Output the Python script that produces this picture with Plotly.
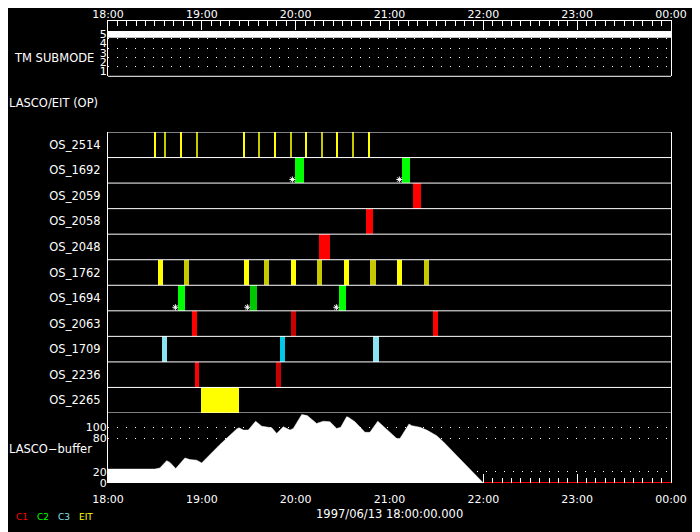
import plotly.graph_objects as go

# ---------------- data ----------------
hour_ticks = [0, 60, 120, 180, 240, 300, 360]          # minutes after 18:00
hour_labels = ["18:00", "19:00", "20:00", "21:00", "22:00", "23:00", "00:00"]

os_names = ["OS_2514", "OS_1692", "OS_2059", "OS_2058", "OS_2048", "OS_1762",
            "OS_1694", "OS_2063", "OS_1709", "OS_2236", "OS_2265"]

YEL, OLV = "#ffff00", "#c8c800"
GRN, DGRN = "#00ff00", "#00c800"
RED, DRED = "#ff0000", "#c80000"
LCY, DCY = "#8ae2f0", "#00c8e6"

os_2514_start = [29.6, 36.0, 46.0, 56.0, 86.1, 96.1, 106.1, 116.1, 126.2, 136.2, 146.0, 156.2, 166.3]
os_2514_dur = [1.3, 0.7, 1.3, 1.3, 1.3, 0.7, 1.3, 1.3, 0.7, 1.3, 0.7, 0.7, 1.3]
os_2514_col = [YEL, OLV, YEL, OLV, YEL, OLV, YEL, OLV, YEL, OLV, YEL, OLV, YEL]

os_1692_start = [119.6, 188.0]
os_1692_dur = [5.8, 5.1]
os_1692_col = [GRN, GRN]

os_2059_start = [195.0]
os_2059_dur = [5.1]
os_2059_col = [RED]

os_2058_start = [165.0]
os_2058_dur = [4.5]
os_2058_col = [RED]

os_2048_start = [134.9]
os_2048_dur = [7.0]
os_2048_col = [RED]

os_1762_start = [32.0, 48.6, 87.0, 99.7, 117.0, 133.6, 150.9, 167.5, 184.8, 202.0]
os_1762_dur = [3.2, 3.2, 3.2, 3.2, 3.2, 3.2, 3.2, 3.9, 3.2, 3.2]
os_1762_col = [YEL, OLV, YEL, OLV, YEL, OLV, YEL, OLV, YEL, OLV]

os_1694_start = [44.8, 90.8, 147.7]
os_1694_dur = [4.5, 4.5, 4.5]
os_1694_col = [GRN, DGRN, GRN]

os_2063_start = [53.7, 117.0, 207.8]
os_2063_dur = [3.2, 3.2, 3.2]
os_2063_col = [RED, DRED, RED]

os_1709_start = [34.5, 110.0, 169.5]
os_1709_dur = [3.2, 3.2, 3.8]
os_1709_col = [LCY, DCY, LCY]

os_2236_start = [55.6, 107.4]
os_2236_dur = [2.6, 3.2]
os_2236_col = [RED, DRED]

os_2265_start = [59.5]
os_2265_dur = [24.3]
os_2265_col = [YEL]

rows = {
    "OS_2514": (os_2514_start, os_2514_dur, os_2514_col),
    "OS_1692": (os_1692_start, os_1692_dur, os_1692_col),
    "OS_2059": (os_2059_start, os_2059_dur, os_2059_col),
    "OS_2058": (os_2058_start, os_2058_dur, os_2058_col),
    "OS_2048": (os_2048_start, os_2048_dur, os_2048_col),
    "OS_1762": (os_1762_start, os_1762_dur, os_1762_col),
    "OS_1694": (os_1694_start, os_1694_dur, os_1694_col),
    "OS_2063": (os_2063_start, os_2063_dur, os_2063_col),
    "OS_1709": (os_1709_start, os_1709_dur, os_1709_col),
    "OS_2236": (os_2236_start, os_2236_dur, os_2236_col),
    "OS_2265": (os_2265_start, os_2265_dur, os_2265_col),
}
asterisk_rows = ["OS_1692", "OS_1694"]

tm_time = [0, 360]
tm_submode = [5, 5]

buffer_time = [0, 30, 33.2, 37.5, 39.6, 43.3, 49.2, 52.4, 56.7, 59.9, 71.6, 82.3, 83.8,
               86.5, 89.7, 94.4, 98.3, 104.7, 107.9, 112.1, 116.4, 118.5, 123.9, 127.4,
               133.4, 137.7, 141.9, 146.2, 148.8, 152.6, 153.7, 157.9, 164.3, 167.5,
               172.5, 178.2, 184.6, 186.7, 192.5, 194.2, 199.5, 203.8, 210.2, 214.4, 240]
buffer_value = [25, 25, 27, 40, 37, 26, 45, 42, 41, 36, 69, 97, 99,
                95, 95, 111, 102, 99, 89, 101, 95, 98, 123, 121,
                107, 111, 110, 98, 100, 119, 118, 110, 91, 91,
                111, 97, 80, 80, 106, 103, 100, 95, 85, 74, 0]
buffer_gap_time = [240, 360]
buffer_gap_value = [0, 0]

legend_labels = ["C1", "C2", "C3", "EIT"]
legend_colors = [RED, GRN, LCY, YEL]
legend_px = [14, 35, 56, 77]

# ---------------- figure ----------------
FONT = "DejaVu Sans"
PAGE_OFF = 8            # default page body margin around the plot div
W, H = 700 - PAGE_OFF, 532 - PAGE_OFF
L, R, T, B = 108 - PAGE_OFF, 29, 20 - PAGE_OFF, 49
PH = H - T - B          # 463
PW = W - L - R          # 563
PLOT_BOTTOM_PAGE = 483
PLOT_LEFT_PAGE = 108


def py2paper(py):
    return (PLOT_BOTTOM_PAGE - py) / PH


def px2paper(px):
    return (px - PLOT_LEFT_PAGE) / PW


fig = go.Figure()

n = len(os_names)
row_index = {name: n - i for i, name in enumerate(os_names)}
for name in os_names:
    st, du, co = rows[name]
    fig.add_trace(go.Bar(
        orientation="h", base=st, x=du, y=[row_index[name]] * len(st),
        width=1.0, offset=-0.5, marker=dict(color=co, line=dict(width=0)),
        xaxis="x", yaxis="y2", showlegend=False, hoverinfo="skip"))

for name in asterisk_rows:
    st, du, co = rows[name]
    fig.add_trace(go.Scatter(
        x=[s - 1.7 for s in st], y=[row_index[name] - 0.36] * len(st),
        mode="markers", marker=dict(symbol="asterisk-open", size=5, color="white",
                                    line=dict(color="white", width=1)),
        xaxis="x", yaxis="y2", showlegend=False, hoverinfo="skip"))

fig.add_trace(go.Scatter(x=tm_time, y=tm_submode, mode="lines",
                         line=dict(color="white", width=6.7),
                         xaxis="x2", yaxis="y", showlegend=False, hoverinfo="skip"))

fig.add_trace(go.Scatter(x=buffer_time, y=buffer_value, mode="lines",
                         fill="tozeroy", fillcolor="white",
                         line=dict(color="white", width=0.5),
                         xaxis="x", yaxis="y3", showlegend=False, hoverinfo="skip"))
fig.add_trace(go.Scatter(x=buffer_gap_time, y=buffer_gap_value, mode="lines",
                         line=dict(color="#ff0000", width=2),
                         xaxis="x", yaxis="y3", showlegend=False, hoverinfo="skip"))

d_buf = py2paper(413)
d_os_top = py2paper(132)
d_tm_bot = py2paper(76.3)

axis_font = dict(family=FONT, size=11, color="white")
label_font = dict(family=FONT, size=11.5, color="white")
dots = "1px,8px"

fig.update_layout(
    width=W, height=H,
    margin=dict(l=L, r=R, t=T, b=B, autoexpand=False),
    paper_bgcolor="black", plot_bgcolor="black",
    font=axis_font,
    barmode="overlay", bargap=0,
    xaxis=dict(domain=[0, 1], range=[0, 360], anchor="y3", automargin=False,
               tickmode="array", tickvals=hour_ticks, ticktext=hour_labels,
               ticks="inside", ticklen=9, tickwidth=1, tickcolor="white",
               minor=dict(tickmode="linear", tick0=0, dtick=6, ticks="inside",
                          ticklen=5, tickwidth=1, tickcolor="white"),
               showline=False, showgrid=False, zeroline=False,
               tickfont=axis_font, ticklabelstandoff=8),
    xaxis2=dict(domain=[0, 1], range=[0, 360], overlaying="x", side="top",
                anchor="free", position=1, automargin=False,
                tickmode="array", tickvals=hour_ticks, ticktext=hour_labels,
                ticks="inside", ticklen=9, tickwidth=1, tickcolor="white",
                minor=dict(tickmode="linear", tick0=0, dtick=6, ticks="inside",
                           ticklen=5, tickwidth=1, tickcolor="white"),
                showline=True, linecolor="white", linewidth=1,
                showgrid=False, zeroline=False, tickfont=axis_font,
                ticklabelstandoff=-2),
    yaxis=dict(domain=[d_tm_bot, 1], range=[0.435, 6.554], anchor="x", automargin=False,
               tickmode="array", tickvals=[1, 2, 3, 4, 5],
               ticktext=["1", "2", "3", "4", "5"], ticks="",
               showline=True, mirror=True, linecolor="white", linewidth=1,
               showgrid=False, zeroline=False,
               minor=dict(tickmode="array", tickvals=[1.5, 2.5, 3.5, 4.5],
                          ticks="", showgrid=True, gridcolor="white",
                          griddash=dots, gridwidth=1),
               tickfont=axis_font, ticklabelstandoff=-2),
    yaxis4=dict(domain=[d_os_top, d_tm_bot], range=[0, 1], anchor="x", automargin=False,
                showline=True, mirror=True, linecolor="white", linewidth=1,
                showticklabels=False, ticks="", showgrid=False, zeroline=False),
    yaxis2=dict(domain=[d_buf, d_os_top], range=[0.5, n + 0.5], anchor="x", automargin=False,
                tickmode="array", tickvals=[row_index[nm] for nm in os_names],
                ticktext=os_names, ticks="",
                showline=True, mirror=True, linecolor="white", linewidth=1,
                showgrid=False, zeroline=False, tickfont=label_font,
                ticklabelstandoff=4),
    yaxis3=dict(domain=[0, d_buf], range=[0, 125.7], anchor="x", automargin=False,
                tickmode="array", tickvals=[0, 20, 80, 100],
                ticktext=["0", "20", "80", "100"], ticks="",
                showline=True, mirror=True, linecolor="white", linewidth=1,
                showgrid=True, gridcolor="white", griddash=dots, gridwidth=1,
                zeroline=False, tickfont=axis_font, ticklabelstandoff=-2),
)

# row separators (in OS-axis data units) and panel boundary under TM
shapes = []
for k in range(n + 1):
    shapes.append(dict(type="line", xref="x domain", yref="y2", x0=0, x1=1,
                       y0=k + 0.5, y1=k + 0.5, line=dict(color="white", width=1),
                       layer="above"))
shapes.append(dict(type="line", xref="x domain", yref="y domain", x0=0, x1=1,
                   y0=0, y1=0, line=dict(color="white", width=1)))
fig.update_layout(shapes=shapes)

ann = []
ann.append(dict(text="TM SUBMODE", xref="paper", yref="paper",
                x=px2paper(96), y=py2paper(58), xanchor="right", yanchor="middle",
                showarrow=False, font=label_font))
ann.append(dict(text="LASCO/EIT (OP)", xref="paper", yref="paper",
                x=px2paper(7), y=py2paper(103), xanchor="left", yanchor="middle",
                showarrow=False, font=label_font))
ann.append(dict(text="LASCO\u2212buffer", xref="paper", yref="paper",
                x=px2paper(7), y=py2paper(449), xanchor="left", yanchor="middle",
                showarrow=False, font=label_font))
ann.append(dict(text="1997/06/13 18:00:00.000", xref="paper", yref="paper",
                x=0.5, y=py2paper(514), xanchor="center", yanchor="middle",
                showarrow=False, font=label_font))
for lab, col, px in zip(legend_labels, legend_colors, legend_px):
    ann.append(dict(text=lab, xref="paper", yref="paper",
                    x=px2paper(px), y=py2paper(517), xanchor="left", yanchor="middle",
                    showarrow=False, font=dict(family=FONT, size=9, color=col)))
fig.update_layout(annotations=ann)

fig.write_html("out.html")
